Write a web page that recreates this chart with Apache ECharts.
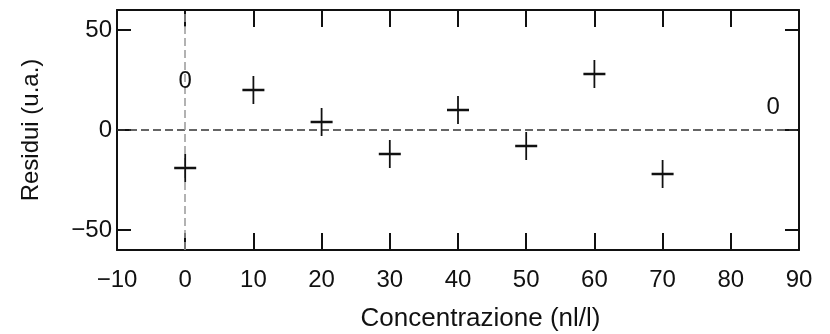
<!DOCTYPE html>
<html>
<head>
<meta charset="utf-8">
<script src="https://cdn.jsdelivr.net/npm/echarts@6/dist/echarts.min.js"></script>
<style>
  html, body { margin: 0; padding: 0; background: #fff; }
  #chart { width: 830px; height: 334px; }
</style>
</head>
<body>
<div id="chart"></div>
<script>
// Concentrations (nl/l) and fit residuals (u.a.)
const concentrations = [0, 10, 20, 30, 40, 50, 60, 70];
const residuals = [-19, 20, 4, -12, 10, -8, 28, -22];

// Axis ranges and tick values
const xRange = [-10, 90];
const xStep = 10;
const yRange = [-60, 60];
const yTicks = [-50, 0, 50];

// Zero reference tags: [x, y] anchor in data units
const zeroTags = [[0, 24.3], [86.2, 11.3]];

const ink = '#111';
const font = '"Liberation Sans", Arial, Helvetica, sans-serif';
const minus = v => String(v).replace('-', '\u2212');

const chart = echarts.init(document.getElementById('chart'), null, { renderer: 'canvas' });

const xCommon = {
  type: 'value', min: xRange[0], max: xRange[1], interval: xStep,
  splitLine: { show: false },
  axisLine: { show: true, onZero: false, lineStyle: { color: ink, width: 2 } },
  axisTick: { show: true, inside: true, length: 17, lineStyle: { color: ink, width: 2 } }
};
const yCommon = {
  type: 'value', min: yRange[0], max: yRange[1],
  splitLine: { show: false },
  axisLine: { show: true, onZero: false, lineStyle: { color: ink, width: 2 } },
  axisTick: { show: true, inside: true, length: 14, customValues: yTicks, lineStyle: { color: ink, width: 2 } }
};

chart.setOption({
  animation: false,
  backgroundColor: '#fff',
  grid: { left: 117, right: 31, top: 10, bottom: 84, outerBoundsMode: 'none', containLabel: false },
  xAxis: [
    Object.assign({}, xCommon, {
      position: 'bottom',
      name: 'Concentrazione (nl/l)',
      nameLocation: 'middle',
      nameGap: 56,
      nameTextStyle: { fontFamily: font, fontSize: 26, color: ink, padding: [0, 0, 0, 45] },
      axisLabel: { show: true, margin: 18, fontFamily: font, fontSize: 24, color: ink, formatter: minus }
    }),
    Object.assign({}, xCommon, { position: 'top', axisLabel: { show: false } })
  ],
  yAxis: [
    Object.assign({}, yCommon, {
      position: 'left',
      name: 'Residui (u.a.)',
      nameLocation: 'middle',
      nameGap: 74,
      nameTextStyle: { fontFamily: font, fontSize: 24, color: ink },
      axisLabel: { show: true, margin: 5, customValues: yTicks, fontFamily: font, fontSize: 24, color: ink, formatter: minus }
    }),
    Object.assign({}, yCommon, { position: 'right', axisLabel: { show: false } })
  ],
  series: [
    {
      type: 'scatter',
      xAxisIndex: 0, yAxisIndex: 0,
      data: concentrations.map((c, i) => [c, residuals[i]]),
      symbol: 'path://M0,14L22,14M11,0L11,28',
      symbolSize: [22, 28],
      itemStyle: { color: 'transparent', borderColor: ink, borderWidth: 2, opacity: 1 },
      z: 5,
      markLine: {
        silent: true,
        symbol: 'none',
        label: { show: false },
        data: [
          { yAxis: 0, lineStyle: { color: '#333', width: 1.5, type: [8, 4], opacity: 1 } },
          { xAxis: 0, lineStyle: { color: '#999', width: 1.5, type: [8, 4], opacity: 1 } }
        ]
      }
    },
    {
      // "0" tags for the two zero reference lines
      type: 'custom',
      xAxisIndex: 0, yAxisIndex: 0,
      silent: true,
      data: zeroTags,
      renderItem: function (params, api) {
        const p = api.coord([api.value(0), api.value(1)]);
        return {
          type: 'text',
          x: p[0], y: p[1],
          style: {
            text: '0', fill: ink, font: '24px ' + font,
            align: 'center', verticalAlign: 'middle'
          }
        };
      },
      z: 6
    }
  ]
});
</script>
</body>
</html>
